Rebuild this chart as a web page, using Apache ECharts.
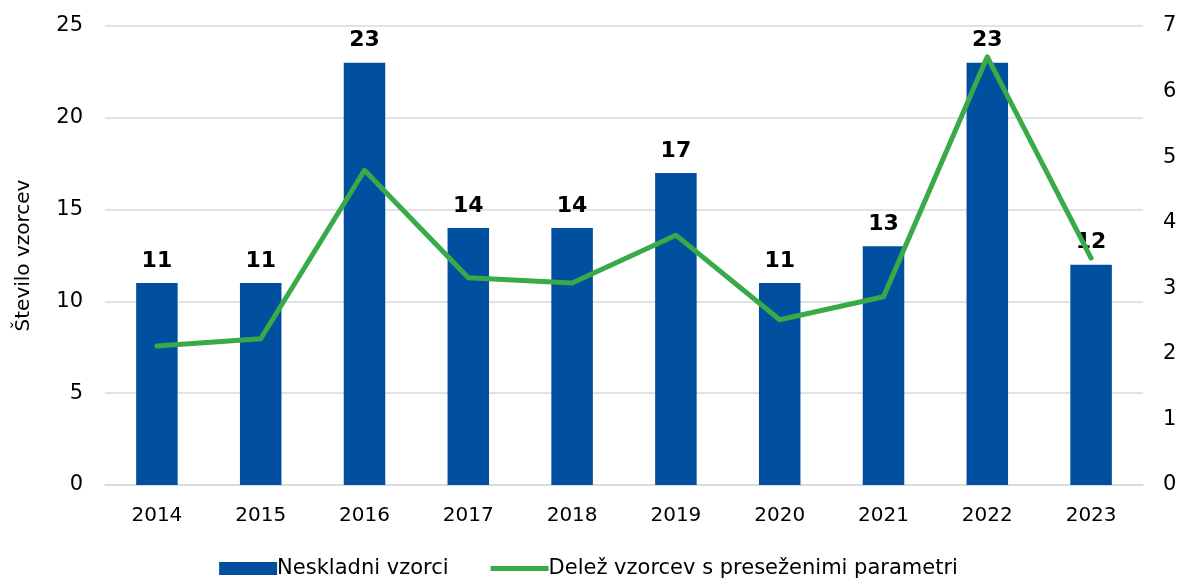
<!DOCTYPE html>
<html>
<head>
<meta charset="utf-8">
<script src="https://cdn.jsdelivr.net/npm/echarts@6/dist/echarts.min.js"></script>
<style>
  html, body { margin: 0; padding: 0; background: #fff; }
  #chart { width: 1177px; height: 580px; }
</style>
</head>
<body>
<div id="chart"></div>
<script>
// leta
var years = ['2014', '2015', '2016', '2017', '2018', '2019', '2020', '2021', '2022', '2023'];
// število neskladnih vzorcev
var neskladni = [11, 11, 23, 14, 14, 17, 11, 13, 23, 12];
// delež vzorcev s preseženimi parametri (%)
var delez = [2.12, 2.23, 4.80, 3.16, 3.08, 3.81, 2.52, 2.87, 6.53, 3.46];

var font = 'DejaVu Sans';
// tanka črta kot ikona legende (prazni podpoti samo določijo okvir)
var lineIcon = 'path://M0,0 L0.01,0 Z M0,4 L58,4 L58,9 L0,9 Z M0,13 L0.01,13 Z';

var chart = echarts.init(document.getElementById('chart'));
var option = {
  animation: false,
  textStyle: { fontFamily: font },
  grid: { left: 105, right: 34, top: 26, bottom: 95, outerBoundsMode: 'none', containLabel: false },
  legend: {
    top: 553,
    left: 'center',
    itemGap: 42,
    itemWidth: 58,
    itemHeight: 13,
    textStyle: { fontSize: 21, color: '#000', fontFamily: font, padding: [0, 0, 0, -5] },
    data: [
      { name: 'Neskladni vzorci', icon: 'rect' },
      { name: 'Delež vzorcev s preseženimi parametri', icon: lineIcon }
    ]
  },
  xAxis: {
    type: 'category',
    data: years,
    axisTick: { show: false },
    axisLine: { lineStyle: { color: '#d9d9d9', width: 1.5 } },
    axisLabel: { color: '#000', fontSize: 20, margin: 21 }
  },
  yAxis: [
    {
      type: 'value',
      min: 0, max: 25, interval: 5,
      name: 'Število vzorcev',
      nameLocation: 'middle',
      nameGap: 71,
      nameTextStyle: { fontSize: 20, color: '#000' },
      axisLabel: { color: '#000', fontSize: 21, margin: 22 },
      axisLine: { show: false },
      axisTick: { show: false },
      splitLine: { lineStyle: { color: '#d9d9d9', width: 1.5 } }
    },
    {
      type: 'value',
      min: 0, max: 7, interval: 1,
      position: 'right',
      axisLabel: { color: '#000', fontSize: 21, margin: 20, align: 'left', formatter: '{value} %' },
      axisLine: { show: false },
      axisTick: { show: false },
      splitLine: { show: false }
    }
  ],
  series: [
    {
      name: 'Neskladni vzorci',
      type: 'bar',
      data: neskladni,
      barWidth: '40%',
      itemStyle: { color: '#00509f' },
      label: {
        show: true,
        position: 'top',
        distance: 11,
        color: '#000',
        fontSize: 22,
        fontWeight: 'bold'
      }
    },
    {
      name: 'Delež vzorcev s preseženimi parametri',
      type: 'line',
      yAxisIndex: 1,
      data: delez,
      symbol: 'none',
      lineStyle: { color: '#39aa48', width: 5, cap: 'round', join: 'round' },
      itemStyle: { color: '#39aa48' }
    }
  ]
};
chart.setOption(option);
</script>
</body>
</html>
